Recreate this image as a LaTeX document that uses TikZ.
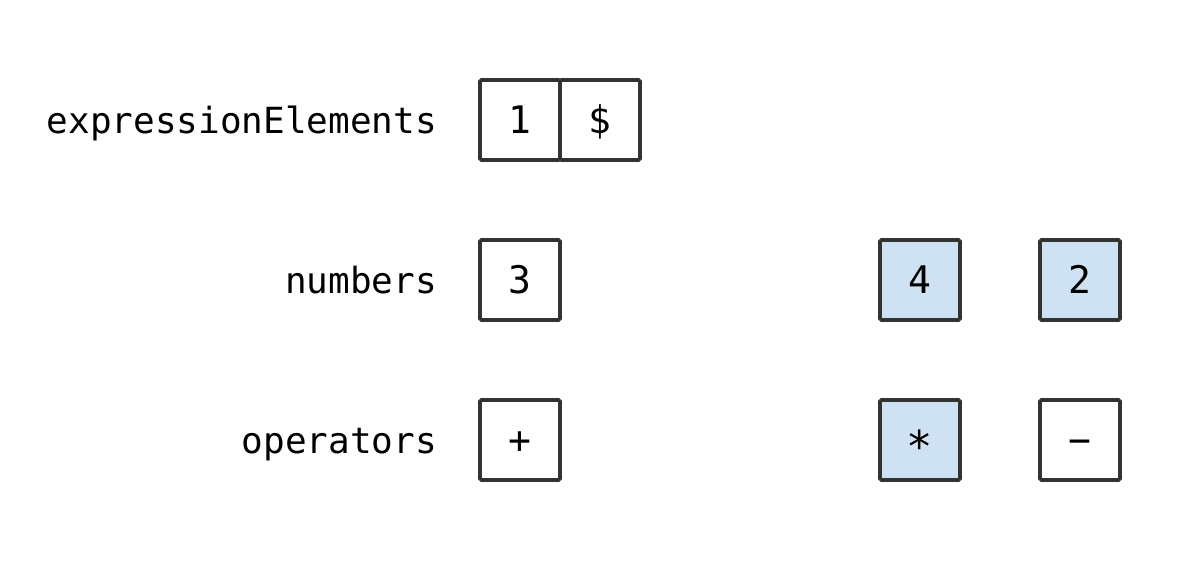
\documentclass[tikz,border=0pt]{standalone}
\usepackage{fontspec}
\setmonofont{DejaVu Sans Mono}
\definecolor{edge}{HTML}{333333}
\definecolor{hl}{HTML}{CFE2F3}
\begin{document}
\begin{tikzpicture}[x=1pt,y=-1pt,
  cell/.style={draw=edge,line width=3.8pt,rounded corners=1.5pt,minimum width=80pt,minimum height=80pt,inner sep=0pt,
    text height=27pt,text depth=0pt,font=\ttfamily\fontsize{38}{42}\selectfont},
  hot/.style={cell,fill=hl},
  lbl/.style={anchor=base east,inner sep=0pt,font=\ttfamily\fontsize{36}{40}\selectfont}]
\useasboundingbox (0,0) rectangle (1200,560);
\node[lbl] (lexpr) at (437,133) {expressionElements};
\node[lbl] (lnum) at (437,293) {numbers};
\node[lbl] (lop) at (437,453) {operators};
\node[cell] (e1) at (520,120) {1};
\node[cell] (e2) at (600,120) {\$};
\node[cell] (n1) at (520,280) {3};
\node[hot] (n2) at (920,280) {4};
\node[hot] (n3) at (1080,280) {2};
\node[cell] (o1) at (520,440) {+};
\node[hot] (o2) at (920,440) {\scalebox{1.15}{∗}};
\node[cell] (o3) at (1080,440) {−};
\end{tikzpicture}
\end{document}
